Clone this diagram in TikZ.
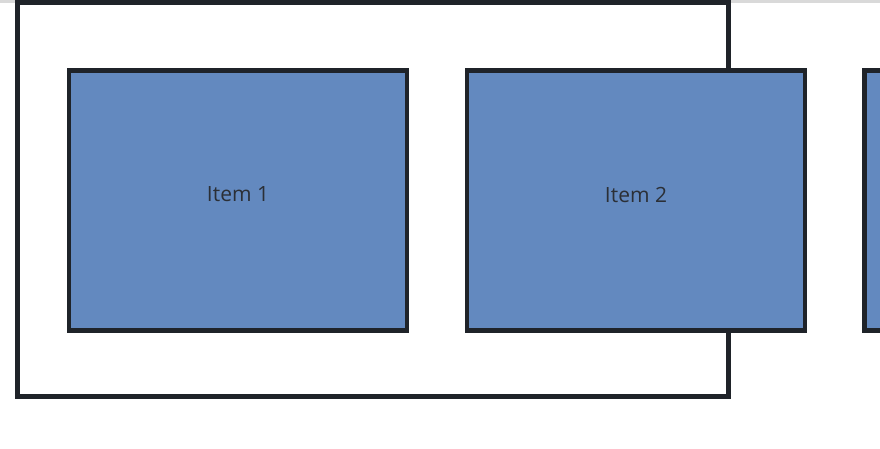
\documentclass[tikz,border=0pt]{standalone}
\usepackage{fontspec}
\setmainfont{Open Sans}
\definecolor{edge}{HTML}{1F2329}
\definecolor{itemfill}{HTML}{6389BF}
\definecolor{labelink}{HTML}{2B2F36}
\definecolor{band}{HTML}{D9D9D9}
\begin{document}
\begin{tikzpicture}[x=1pt,y=-1pt,
  itembox/.style={draw=edge,line width=4.5pt,fill=itemfill,minimum width=338pt,minimum height=260pt,inner sep=0pt,outer sep=0pt,anchor=north west},
  itemlabel/.style={font=\fontsize{21}{25}\selectfont,text=labelink,inner sep=0pt},
  frame/.style={draw=edge,line width=5pt}]
\useasboundingbox (0,0) rectangle (880,449);
\fill[white] (0,0) rectangle (880,449);
% faint strip along the top edge
\fill[band] (0,0) rectangle (880,3);
% scroll container
\draw[frame] (17.5,3) rectangle (728,396);
% items in the row
\begin{scope}
\clip (0,0) rectangle (880,449);
\node[itembox] (item1) at (69,70.5) {};
\node[itembox] (item2) at (467,70.5) {};
\node[itembox] (item3) at (864.5,70.5) {};
\end{scope}
\node[itemlabel] (label1) at ([yshift=6pt]item1.center) {Item 1};
\node[itemlabel] (label2) at ([yshift=6pt]item2.center) {Item 2};
\end{tikzpicture}
\end{document}
